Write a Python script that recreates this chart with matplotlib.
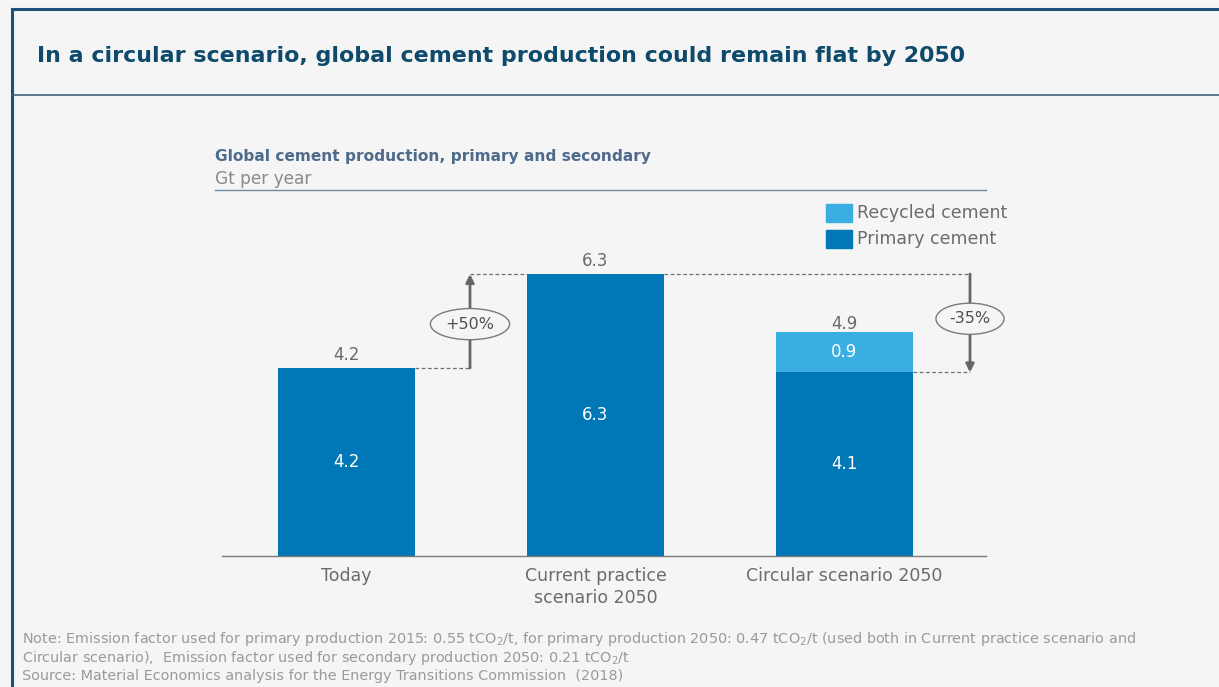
import matplotlib.pyplot as plt
from matplotlib.patches import Rectangle
from matplotlib.lines import Line2D

categories = ["Today", "Current practice\nscenario 2050", "Circular scenario 2050"]
primary = [4.2, 6.3, 4.1]
recycled = [0.0, 0.0, 0.9]
totals = [4.2, 6.3, 4.9]
change_labels = ["+50%", "-35%"]

C_PRIM = "#0077b6"
C_REC = "#3aaee2"
C_TXT = "#6b6b6b"
BG = "#f5f5f5"

plt.rcParams['font.family'] = ['DejaVu Sans']

W, H = 1219, 687
fig = plt.figure(figsize=(W/100, H/100), dpi=100, facecolor=BG)
renderer = fig.canvas.get_renderer()

def fx(px): return px / W
def fy(py): return 1 - py / H

def fit_text(x, y, s, target_w, size, **kw):
    t = fig.text(x, y, s, fontsize=size, **kw)
    w = t.get_window_extent(renderer).width
    t.set_fontsize(size * target_w / w)
    return t

# frame lines
fig.add_artist(Line2D([fx(12), fx(12)], [fy(9), 0], color="#1d4f7c", lw=2.2))
fig.add_artist(Line2D([fx(12), 1], [fy(9), fy(9)], color="#1d4f7c", lw=2.2))
fig.add_artist(Line2D([fx(12), 1], [fy(95), fy(95)], color="#3d6480", lw=1.2))
fit_text(fx(37), fy(56), "In a circular scenario, global cement production could remain flat by 2050",
         928, 16, fontweight='bold', color="#0d4a6b", va='center', ha='left')

# subtitle
fit_text(fx(215), fy(157), "Global cement production, primary and secondary", 439, 11.5,
         fontweight='bold', color="#4f6b8c", va='center', ha='left')
fit_text(fx(215), fy(179), "Gt per year", 98, 11.5, color="#8a8a8a", va='center', ha='left')
fig.add_artist(Line2D([fx(215), fx(986)], [fy(190), fy(190)], color="#6f8aa3", lw=1.0))

# axes
ax_l, ax_r, ax_b, ax_t = 222, 986, 556, 190
ax = fig.add_axes([fx(ax_l), fy(ax_b), (ax_r - ax_l)/W, (ax_b - ax_t)/H])
ax.set_facecolor('none')
ppu = (556 - 274) / 6.3
spacing = 249.0
x0 = (346.5 - ax_l) / spacing
ax.set_xlim(-x0, (ax_r - 346.5) / spacing)
ax.set_ylim(0, (ax_b - ax_t) / ppu)
for s in ['top', 'right', 'left']:
    ax.spines[s].set_visible(False)
ax.spines['bottom'].set_color("#7a7a7a")
ax.spines['bottom'].set_linewidth(1.0)
ax.set_yticks([])
xs = list(range(len(categories)))
ax.set_xticks(xs)
ax.set_xticklabels(categories, fontsize=12.5, color=C_TXT, linespacing=1.25)
ax.tick_params(axis='x', length=0, pad=8)

bw = 137 / spacing
ax.bar(xs, primary, width=bw, color=C_PRIM, zorder=2)
ax.bar(xs, recycled, width=bw, bottom=primary, color=C_REC, zorder=2)

for i in xs:
    ax.text(i, primary[i] / 2, f"{primary[i]:.1f}", ha='center', va='center', color='white', fontsize=12)
    if recycled[i] > 0:
        ax.text(i, primary[i] + recycled[i] / 2, f"{recycled[i]:.1f}", ha='center', va='center',
                color='white', fontsize=12)
    ax.text(i, totals[i] + 0.08, f"{totals[i]:.1f}", ha='center', va='bottom', color=C_TXT, fontsize=12)

dash = dict(ls=(0, (3, 2)), color="#707070", lw=0.9)
arrow = dict(arrowstyle='-|>', color="#666666", lw=2, mutation_scale=12, shrinkA=0, shrinkB=0)
ell = dict(boxstyle='ellipse,pad=0.22', fc=BG, ec="#7a7a7a", lw=1)

# annotation 1: Today -> Current practice
ax1x = (470 - 346.5) / spacing
ax.plot([bw/2, ax1x], [totals[0], totals[0]], **dash)
ax.plot([ax1x, 1 - bw/2], [totals[1], totals[1]], **dash)
ax.annotate("", xy=(ax1x, totals[1]), xytext=(ax1x, totals[0]), arrowprops=arrow)
ax.text(ax1x, 5.18, change_labels[0], ha='center', va='center', fontsize=11.5, color="#505050",
        bbox=ell, zorder=5)

# annotation 2: Current practice -> Circular
ax2x = (970 - 346.5) / spacing
ax.plot([1 + bw/2, ax2x], [totals[1], totals[1]], **dash)
ax.plot([2 + bw/2, ax2x], [primary[2], primary[2]], **dash)
ax.annotate("", xy=(ax2x, primary[2]), xytext=(ax2x, totals[1]), arrowprops=arrow)
ax.text(ax2x, 5.3, change_labels[1], ha='center', va='center', fontsize=11.5, color="#505050",
        bbox=ell, zorder=5)

# legend
for (lbl, col, py) in [("Recycled cement", C_REC, 213), ("Primary cement", C_PRIM, 239)]:
    fig.add_artist(Rectangle((fx(826), fy(py + 9)), 26/W, 18/H, color=col, transform=fig.transFigure))
    fig.text(fx(857), fy(py), lbl, fontsize=12.5, color=C_TXT, va='center', ha='left')

# notes
notes = [
    "Note: Emission factor used for primary production 2015: 0.55 tCO$_2$/t, for primary production 2050: 0.47 tCO$_2$/t (used both in Current practice scenario and",
    "Circular scenario),  Emission factor used for secondary production 2050: 0.21 tCO$_2$/t",
    "Source: Material Economics analysis for the Energy Transitions Commission  (2018)",
]
t0 = fit_text(fx(22), fy(639), notes[0], 1116, 10, color="#9a9a9a", va='center', ha='left')
for t, py in zip(notes[1:], [658, 676]):
    fig.text(fx(22), fy(py), t, fontsize=t0.get_fontsize(), color="#9a9a9a", va='center', ha='left')

fig.savefig("out.png", dpi=100, facecolor=BG)
